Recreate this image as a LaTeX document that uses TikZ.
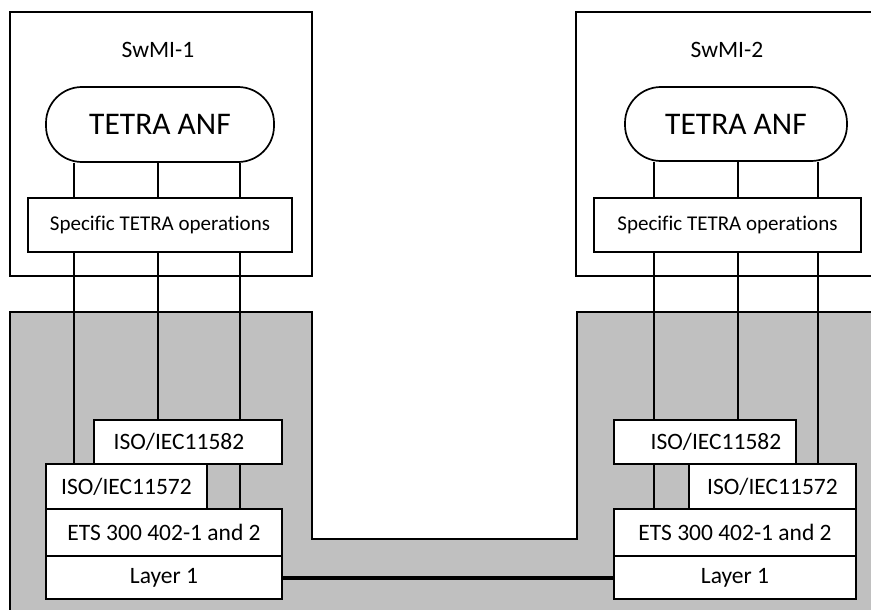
\documentclass[tikz,border=0pt]{standalone}
\usepackage{fontspec}
\setmainfont{Carlito}[Ligatures=NoCommon]
\begin{document}
\begin{tikzpicture}[x=1pt,y=-1pt,
  thinln/.style={line width=1.7pt},
  box/.style={draw, line width=1.7pt, fill=white, inner sep=0pt, font=\fontsize{23.5}{26}\selectfont},
  specbox/.style={box, font=\fontsize{21}{24}\selectfont},
  anfbox/.style={draw, line width=1.7pt, fill=white, inner sep=0pt, rounded corners=36pt, font=\fontsize{31.5}{34}\selectfont},
  lbl/.style={inner sep=0pt, font=\fontsize{23.5}{26}\selectfont}
]
\useasboundingbox (0,0) rectangle (871,610);
\begin{scope}
\clip (0,0) rectangle (871,610);
% SwMI frames
\draw[thinln] (10,12) rectangle (312,276);
\draw[thinln] (576,12) rectangle (890,276);
% grey network area
\fill[fill={rgb,255:red,192;green,192;blue,192}] (10,630) -- (10,312) -- (312,312) -- (312,539) -- (577,539) -- (577,312) -- (890,312) -- (890,630) -- cycle;
\draw[thinln] (10,630) -- (10,312) -- (312,312) -- (312,539) -- (577,539) -- (577,312) -- (890,312);

\node[lbl] (sw1) at (158,50) {SwMI-1};
\node[lbl] (sw2) at (727,50) {SwMI-2};

\node[anfbox, minimum width=228pt, minimum height=75pt] (anf1) at (160,124.5) {TETRA ANF};
\node[anfbox, minimum width=222pt, minimum height=74pt] (anf2) at (736,124) {TETRA ANF};

\node[specbox, minimum width=264pt, minimum height=54pt] (spec1) at (160,225) {Specific TETRA operations};
\node[specbox, minimum width=267pt, minimum height=54pt] (spec2) at (727.5,225) {Specific TETRA operations};

% left stack
\node[box, minimum width=188pt, minimum height=44pt] (iso82L) at (188,442) {\hspace*{-18pt}ISO/IEC11582};
\node[box, minimum width=161pt, minimum height=45pt] (iso72L) at (126.5,486.5) {ISO/IEC11572};
\node[box, minimum width=236pt, minimum height=47pt] (etsL) at (164,532.5) {ETS 300 402-1 and 2};
\node[box, minimum width=236pt, minimum height=43pt] (layL) at (164,577.5) {Layer 1};
% right stack
\node[box, minimum width=182pt, minimum height=44pt] (iso82R) at (705,442) {\hspace*{22pt}ISO/IEC11582};
\node[box, minimum width=167pt, minimum height=45pt] (iso72R) at (772.5,486.5) {ISO/IEC11572};
\node[box, minimum width=242pt, minimum height=47pt] (etsR) at (735,532.5) {ETS 300 402-1 and 2};
\node[box, minimum width=242pt, minimum height=43pt] (layR) at (735,577.5) {Layer 1};

% column coordinates
\coordinate (a1) at (74,0);
\coordinate (a2) at (158,0);
\coordinate (a3) at (240,0);
\coordinate (b1) at (654,0);
\coordinate (b2) at (738,0);
\coordinate (b3) at (818,0);

% left connectors
\draw[thinln] (anf1.south -| a1) -- (spec1.north -| a1);
\draw[thinln] (anf1.south -| a2) -- (spec1.north -| a2);
\draw[thinln] (anf1.south -| a3) -- (spec1.north -| a3);
\draw[thinln] (spec1.south -| a1) -- (iso72L.north -| a1);
\draw[thinln] (spec1.south -| a2) -- (iso82L.north -| a2);
\draw[thinln] (spec1.south -| a3) -- (iso82L.north -| a3);
\draw[thinln] (iso82L.south -| a3) -- (etsL.north -| a3);
% right connectors
\draw[thinln] (anf2.south -| b1) -- (spec2.north -| b1);
\draw[thinln] (anf2.south -| b2) -- (spec2.north -| b2);
\draw[thinln] (anf2.south -| b3) -- (spec2.north -| b3);
\draw[thinln] (spec2.south -| b1) -- (iso82R.north -| b1);
\draw[thinln] (spec2.south -| b2) -- (iso82R.north -| b2);
\draw[thinln] (spec2.south -| b3) -- (iso72R.north -| b3);
\draw[thinln] (iso82R.south -| b1) -- (etsR.north -| b1);

% physical link
\draw[line width=4pt] (layL.east) -- (layR.west);
\end{scope}
\end{tikzpicture}
\end{document}
